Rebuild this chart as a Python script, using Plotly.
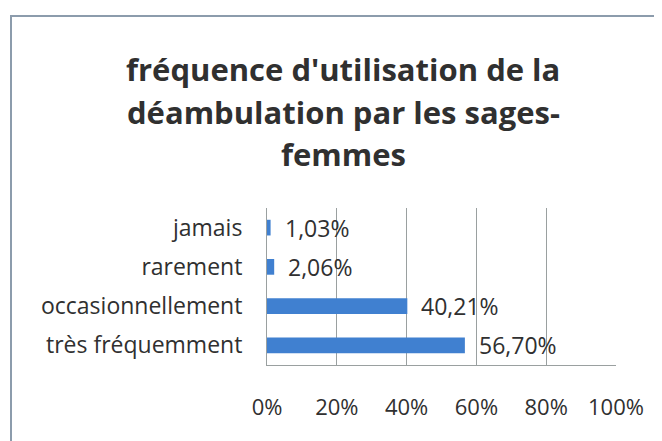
import plotly.graph_objects as go

categories = ["très fréquemment", "occasionnellement", "rarement", "jamais"]
values = [56.70, 40.21, 2.06, 1.03]
value_labels = ["56,70%", "40,21%", "2,06%", "1,03%"]
tick_vals = [0, 20, 40, 60, 80, 100]
tick_text = ["0%", "20%", "40%", "60%", "80%", "100%"]
title_lines = ["fréquence d'utilisation de la", "déambulation par les sages-", "femmes"]

W, H = 662, 441
OFF = 8  # page body margin
# target screen coords of plot area: x 267..616, y 208..365
L = 267 - OFF
R = W - (616 - OFF)
T = 208 - OFF
B = H - (365 - OFF)
pw, ph = W - L - R, H - T - B

FONT = "Open Sans"
TXT = "#303030"
GRID = "#9aa0a0"

fig = go.Figure(go.Bar(
    y=categories, x=values, orientation="h",
    marker=dict(color="#4080D0", line=dict(width=0)),
    width=0.4,
    hoverinfo="skip",
))

def py(ypix):  # screen y -> paper
    return (H - B - (ypix - OFF)) / ph

def px(xpix):  # screen x -> paper
    return ((xpix - OFF) - L) / pw

annotations = []
for line, yc in zip(title_lines, [69, 112, 154]):
    annotations.append(dict(
        text=line, xref="paper", yref="paper", x=px(343), y=py(yc),
        xanchor="center", yanchor="middle", showarrow=False,
        font=dict(family=FONT, size=31, color=TXT, weight="bold"),
    ))
for cat, v, lab in zip(categories, values, value_labels):
    annotations.append(dict(
        text=lab, x=v, y=cat, xref="x", yref="y",
        xanchor="left", yanchor="middle", xshift=12, showarrow=False,
        font=dict(family=FONT, size=23, color=TXT),
    ))

fig.update_layout(
    width=W, height=H,
    margin=dict(l=L, r=R, t=T, b=B),
    paper_bgcolor="white", plot_bgcolor="white",
    showlegend=False,
    annotations=annotations,
    shapes=[dict(type="rect", xref="paper", yref="paper",
                 x0=px(11), x1=px(700), y0=py(480), y1=py(16),
                 line=dict(color="#8c9cac", width=2), layer="below")],
)
fig.update_xaxes(
    range=[0, 100], tickvals=tick_vals, ticktext=tick_text,
    showgrid=True, gridcolor=GRID, gridwidth=1,
    showline=True, linecolor=GRID, linewidth=1,
    zeroline=False, ticks="",
    ticklabelstandoff=23,
    tickfont=dict(family=FONT, size=22, color=TXT),
    fixedrange=True,
)
fig.update_yaxes(
    showgrid=False, showline=True, linecolor=GRID, linewidth=1,
    ticks="", ticklabelstandoff=19,
    tickfont=dict(family=FONT, size=23, color=TXT),
    fixedrange=True,
)
fig.write_html("out.html")
